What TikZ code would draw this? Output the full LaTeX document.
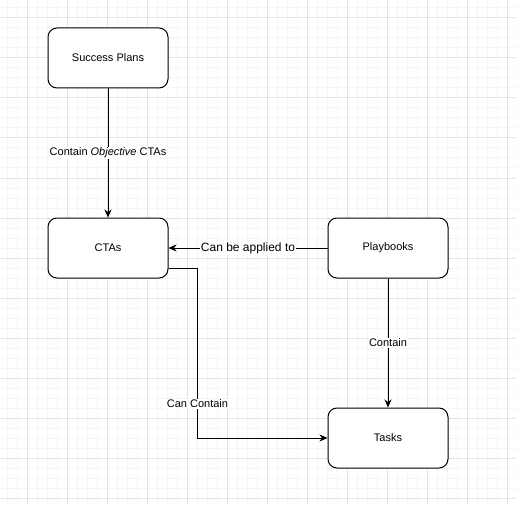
\documentclass[tikz,border=0pt]{standalone}
\usepackage{fontspec}
\setmainfont{Liberation Sans}
\usetikzlibrary{arrows.meta}
\definecolor{gridminor}{RGB}{245,245,245}
\definecolor{gridmajor}{RGB}{228,228,228}
\begin{document}
\begin{tikzpicture}[x=1pt,y=-1pt,
  box/.style={draw, rounded corners=9pt, minimum width=120pt, minimum height=60pt,
    line width=1pt, fill=white, inner sep=0pt, font=\fontsize{11}{13}\selectfont},
  conn/.style={line width=1pt, -{Stealth[length=8pt,width=7pt,inset=2.5pt]}},
  lbl/.style={fill=white, inner sep=1pt, font=\fontsize{11}{13}\selectfont},
  biglbl/.style={fill=white, inner sep=1pt, font=\fontsize{12}{14}\selectfont}
]
\useasboundingbox (0,0) rectangle (516,505);
\fill[white] (0,0) rectangle (516,505);
% grid
\foreach \x in {7,17,...,507} \draw[gridminor, line width=1pt] (\x,0) -- (\x,505);
\foreach \y in {8,18,...,498} \draw[gridminor, line width=1pt] (0,\y) -- (516,\y);
\foreach \x in {27,67,...,507} \draw[gridmajor, line width=1pt] (\x,0) -- (\x,505);
\foreach \y in {18,58,...,498} \draw[gridmajor, line width=1pt] (0,\y) -- (516,\y);
% nodes
\node[box] (sp) at (108,58) {Success Plans};
\node[box] (cta) at (108,248) {CTAs};
\node[box] (pb) at (388,248) {Playbooks};
\node[box] (t) at (388,438) {Tasks};
% connectors
\draw[conn] (sp) -- node[lbl] {Contain \textit{Objective} CTAs} (cta);
\draw[conn] (pb) -- node[biglbl] {Can be applied to} (cta);
\draw[conn] (pb) -- node[lbl] {Contain} (t);
\draw[conn] ([yshift=-20pt]cta.east) -- ++(29,0) |- node[lbl, pos=0.4] {Can Contain} (t.west);
\end{tikzpicture}
\end{document}
